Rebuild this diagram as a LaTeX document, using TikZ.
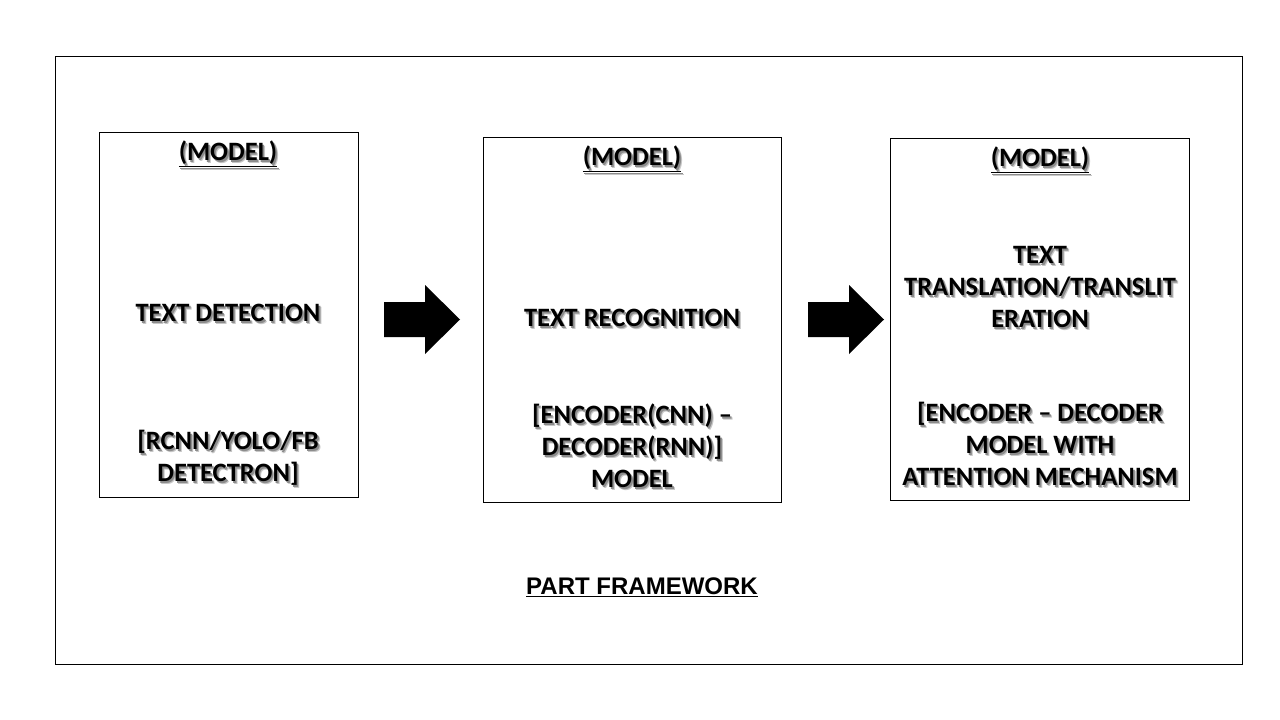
\documentclass[tikz,border=0pt]{standalone}
\usepackage{fontspec}
\setmainfont{Carlito}
\newfontfamily\arialfont{Liberation Sans}
\tikzset{
  frame/.style={draw=black, line width=1pt},
  modelbox/.style={draw=black, line width=1pt},
  lbl/.style={align=center, inner sep=0pt, yshift=-1.3pt, font=\bfseries\fontsize{26.5}{32}\selectfont},
  blockarrow/.style={fill=black, draw=none},
}
% text with a soft drop shadow, typeset inside one node
\newcommand\sh[1]{\leavevmode
  \rlap{\hspace{2.6pt}\raisebox{-2.6pt}{\textcolor{black!22}{#1}}}%
  \rlap{\hspace{1.6pt}\raisebox{-1.6pt}{\textcolor{black!45}{#1}}}%
  #1}
\begin{document}
\begin{tikzpicture}[x=1pt,y=-1pt]
\useasboundingbox[fill=white] (0,0) rectangle (1280,720);
\draw[frame] (55,56) rectangle (1242,664);
% boxes
\draw[modelbox] (99,132) rectangle (358,497);
\draw[modelbox] (483,137) rectangle (781,502);
\draw[modelbox] (890,138) rectangle (1189,500);
% box 1
\node[lbl] (m1) at (228,154) {\sh{\underline{(MODEL)}}};
\node[lbl] (d1) at (228,313) {\sh{TEXT DETECTION}};
\node[lbl] (r1) at (228,458) {\sh{[RCNN/YOLO/FB}\\\sh{DETECTRON]}};
% box 2
\node[lbl] (m2) at (632,159) {\sh{\underline{(MODEL)}}};
\node[lbl] (d2) at (632,318) {\sh{TEXT RECOGNITION}};
\node[lbl] (r2) at (632,446) {\sh{[ENCODER(CNN) --}\\\sh{DECODER(RNN)]}\\\sh{MODEL}};
% box 3
\node[lbl] (m3) at (1040,160) {\sh{\underline{(MODEL)}}};
\node[lbl] (d3) at (1040,287) {\sh{TEXT}\\\sh{TRANSLATION/TRANSLIT}\\\sh{ERATION}};
\node[lbl] (r3) at (1040,444) {\sh{[ENCODER -- DECODER}\\\sh{MODEL WITH}\\\sh{ATTENTION MECHANISM}};
% arrows
\fill[blockarrow] (384,302) -- (425,302) -- (425,285) -- (460,319.5) -- (425,354) -- (425,337) -- (384,337) -- cycle;
\fill[blockarrow] (808,302) -- (849,302) -- (849,285) -- (884,319.5) -- (849,354) -- (849,337) -- (808,337) -- cycle;
% title
\node[inner sep=0pt, font=\arialfont\bfseries\fontsize{24}{28}\selectfont] (title) at (642,587) {\underline{PART FRAMEWORK}};
\end{tikzpicture}
\end{document}
